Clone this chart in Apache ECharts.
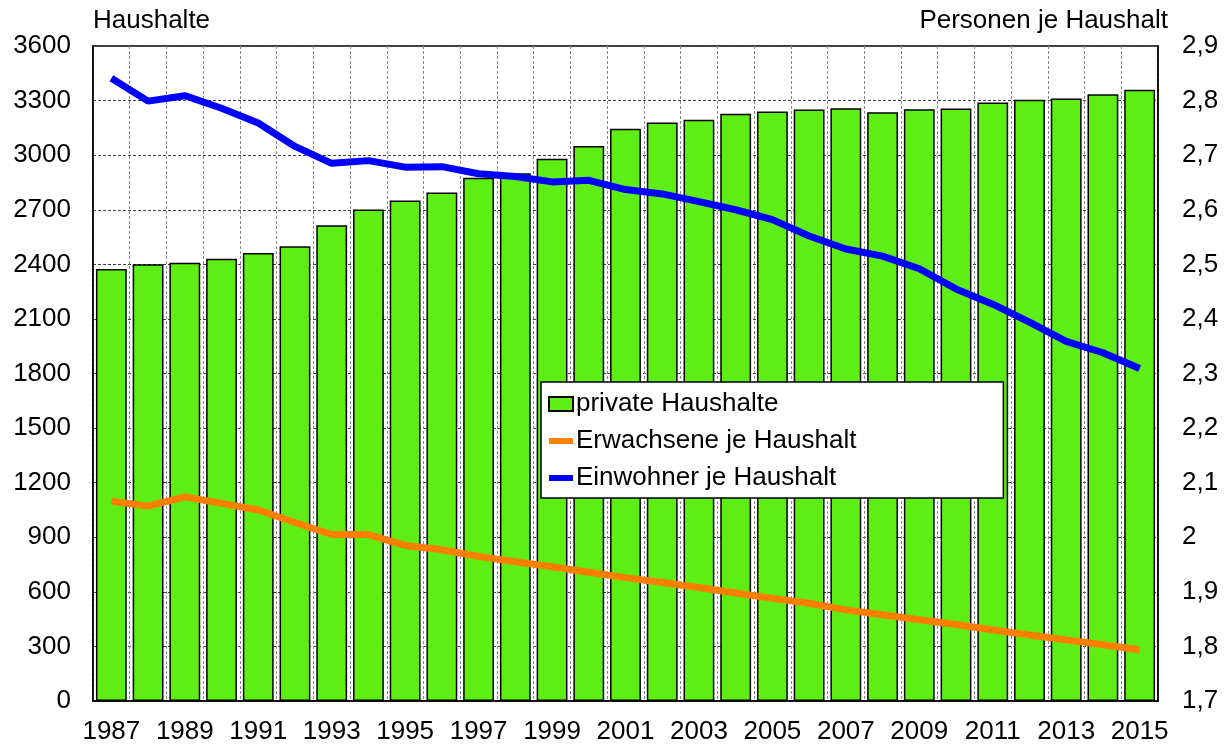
<!DOCTYPE html>
<html>
<head>
<meta charset="utf-8">
<script src="https://cdn.jsdelivr.net/npm/echarts@6/dist/echarts.min.js"></script>
<style>
    html, body { margin: 0; padding: 0; background: #fff; }
    #chart { width: 1231px; height: 745px; }
</style>
</head>
<body>
<div id="chart"></div>
<script>
const jahre = ['1987', '1988', '1989', '1990', '1991', '1992', '1993', '1994', '1995', '1996',
    '1997', '1998', '1999', '2000', '2001', '2002', '2003', '2004', '2005', '2006',
    '2007', '2008', '2009', '2010', '2011', '2012', '2013', '2014', '2015']

// private Haushalte (linke Achse)
const haushalte = [2375, 2400, 2409, 2431, 2462, 2500, 2615, 2702, 2751, 2795,
    2876, 2900, 2980, 3050, 3145, 3180, 3194, 3227, 3240, 3251,
    3258, 3236, 3253, 3256, 3290, 3305, 3311, 3335, 3360]

// Personen je Haushalt (rechte Achse)
const erwachsene = [2.066, 2.057, 2.074, 2.062, 2.050, 2.027, 2.005, 2.005, 1.985, 1.977,
    1.965, 1.955, 1.946, 1.936, 1.926, 1.917, 1.908, 1.898, 1.888, 1.879,
    1.867, 1.858, 1.849, 1.840, 1.830, 1.821, 1.812, 1.803, 1.794]

const einwohner = [2.841, 2.799, 2.809, 2.786, 2.759, 2.716, 2.685, 2.690, 2.678, 2.679,
    2.666, 2.661, 2.651, 2.654, 2.637, 2.629, 2.615, 2.600, 2.582, 2.552,
    2.528, 2.515, 2.492, 2.455, 2.427, 2.394, 2.359, 2.338, 2.309]

const schrift = "'Liberation Sans', Arial, sans-serif"
const groesse = 26
const strichIcon = 'path://M0,0 L24,0 L24,6 L0,6 Z'

const dom = document.getElementById('chart')
const myChart = echarts.init(dom, null, { renderer: 'canvas' })

const option = {
    backgroundColor: '#fff',
    animation: false,
    textStyle: { fontFamily: schrift, color: '#000' },
    title: [{
        text: 'Haushalte',
        left: 93,
        top: 8,
        padding: 0,
        textStyle: { fontFamily: schrift, fontSize: groesse, fontWeight: 'normal', color: '#000' }
    }, {
        text: 'Personen je Haushalt',
        right: 63,
        top: 8,
        padding: 0,
        textStyle: { fontFamily: schrift, fontSize: groesse, fontWeight: 'normal', color: '#000' }
    }],
    grid: {
        left: 93,
        right: 73,
        top: 46,
        bottom: 42,
        show: true,
        borderColor: '#000',
        borderWidth: 1.5,
        backgroundColor: 'transparent'
    },
    legend: {
        orient: 'vertical',
        left: 541,
        top: 382,
        padding: [9, 147, 7, 7],
        itemGap: 11,
        itemWidth: 24,
        itemHeight: 14,
        symbolKeepAspect: true,
        backgroundColor: '#fff',
        borderColor: '#000',
        borderWidth: 1.5,
        borderRadius: 0,
        textStyle: { fontFamily: schrift, fontSize: groesse, color: '#000', padding: [0, 0, 0, -2] },
        data: [
            { name: 'private Haushalte', icon: 'rect' },
            { name: 'Erwachsene je Haushalt', icon: strichIcon, itemStyle: { color: '#ff8000', borderWidth: 0 } },
            { name: 'Einwohner je Haushalt', icon: strichIcon, itemStyle: { color: '#0000ff', borderWidth: 0 } }
        ]
    },
    xAxis: {
        type: 'category',
        data: jahre,
        boundaryGap: true,
        axisLine: { show: true, lineStyle: { color: '#000', width: 1.5 } },
        axisTick: { show: false },
        axisLabel: {
            interval: 1,
            margin: 18,
            fontFamily: schrift,
            fontSize: groesse,
            color: '#000'
        },
        splitLine: {
            show: true,
            interval: 0,
            lineStyle: { color: '#888', type: [3, 2], width: 1 }
        }
    },
    yAxis: [{
        type: 'value',
        min: 0,
        max: 3600,
        interval: 300,
        axisLine: { show: true, lineStyle: { color: '#000', width: 1.5 } },
        axisTick: { show: false },
        axisLabel: {
            margin: 22,
            fontFamily: schrift,
            fontSize: groesse,
            color: '#000',
            formatter: (v) => String(v)
        },
        splitLine: {
            show: true,
            lineStyle: { color: '#444', type: [3, 2], width: 1 }
        }
    }, {
        type: 'value',
        min: 1.7,
        max: 2.9,
        interval: 0.1,
        position: 'right',
        axisLine: { show: true, lineStyle: { color: '#000', width: 1.5 } },
        axisTick: { show: false },
        axisLabel: {
            margin: 24,
            fontFamily: schrift,
            fontSize: groesse,
            color: '#000',
            formatter: (v) => String(+v.toFixed(1)).replace('.', ',')
        },
        splitLine: { show: false }
    }],
    series: [{
        name: 'private Haushalte',
        type: 'bar',
        data: haushalte,
        barCategoryGap: '16%',
        itemStyle: {
            color: '#5eee14',
            borderColor: '#000',
            borderWidth: 1.5
        }
    }, {
        name: 'Erwachsene je Haushalt',
        type: 'line',
        yAxisIndex: 1,
        data: erwachsene,
        symbol: 'none',
        z: 3,
        lineStyle: { color: '#ff8000', width: 7 },
        itemStyle: { color: '#ff8000' }
    }, {
        name: 'Einwohner je Haushalt',
        type: 'line',
        yAxisIndex: 1,
        data: einwohner,
        symbol: 'none',
        z: 3,
        lineStyle: { color: '#0000ff', width: 7 },
        itemStyle: { color: '#0000ff' }
    }]
}

myChart.setOption(option)
window.addEventListener('resize', myChart.resize)
</script>
</body>
</html>
